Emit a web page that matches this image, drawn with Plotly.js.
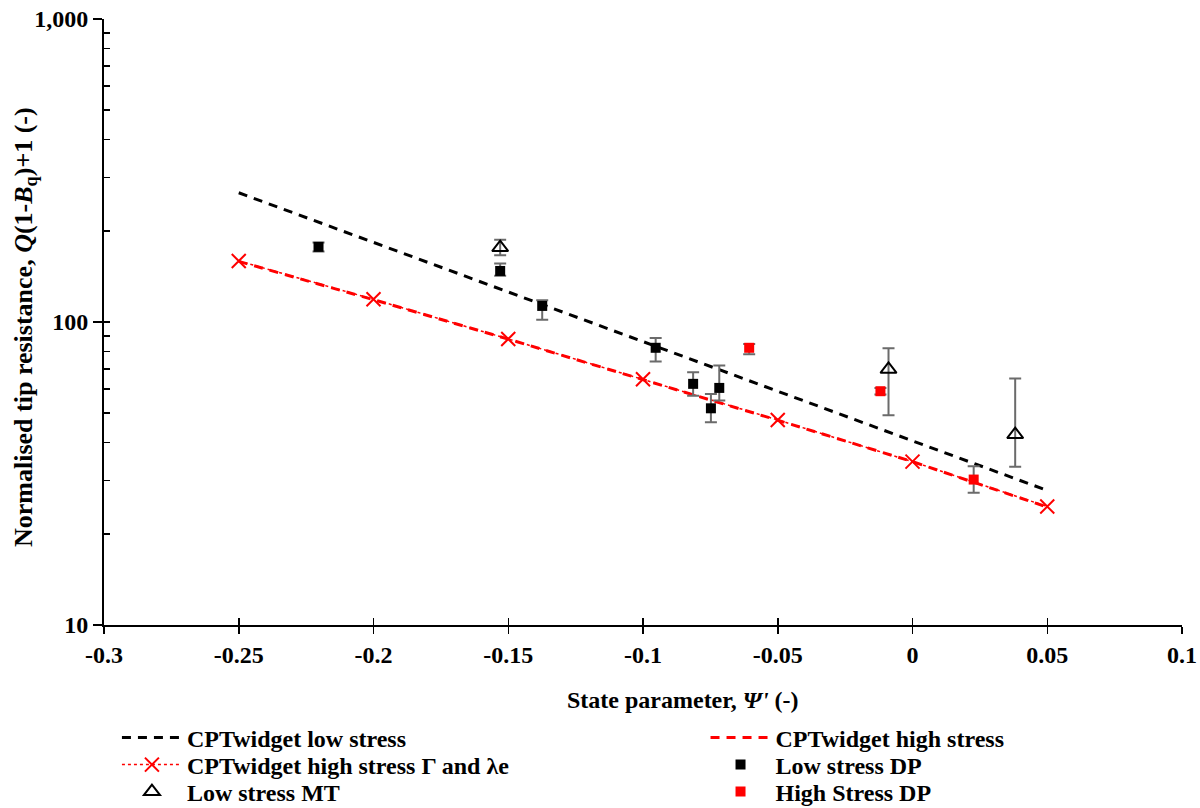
<!DOCTYPE html>
<html>
<head>
<meta charset="utf-8">
<script src="https://cdn.plot.ly/plotly-3.0.1.min.js"></script>
<style>html,body{margin:0;padding:0;background:#fff;}#chart{width:1200px;height:808px;}</style>
</head>
<body>
<div id="chart"></div>
<script>
// CPTwidget lines
const lowLineX = [-0.25, 0.05];
const lowLineY = [267, 27.8];
const highLineX = [-0.25, -0.2, -0.15, -0.1, -0.05, 0, 0.05];
const highLineY = [158.5, 118.5, 87.8, 64.5, 47.4, 34.6, 24.5];
const gammaX = [-0.25, -0.2, -0.15, -0.1, -0.05, 0, 0.05];
const gammaY = [159, 118.8, 87.9, 64.7, 47.5, 34.6, 24.6];

// Low stress DP
const lowDPX = [-0.2204, -0.153, -0.1374, -0.0953, -0.0814, -0.0748, -0.0717];
const lowDPY = [177, 147.4, 113, 82.2, 62.5, 51.9, 60.6];
const lowDPErrPlus = [6, 8.6, 5, 6.3, 5.7, 6.0, 11.3];
const lowDPErrMinus = [6, 5.4, 11.3, 8.2, 5.4, 5.2, 5.5];

// Low stress MT
const mtX = [-0.153, -0.0089, 0.0381];
const mtY = [176, 69.8, 42.5];
const mtErrPlus = [11, 12.1, 22.6];
const mtErrMinus = [10, 20.6, 9.2];

// High Stress DP
const highDPX = [-0.0606, -0.0119, 0.0227];
const highDPY = [82.2, 59.1, 30.2];
const highDPErrPlus = [2.4, 1.5, 3.2];
const highDPErrMinus = [4.0, 1.5, 2.9];

const seriesNames = ['CPTwidget low stress', 'CPTwidget high stress', 'CPTwidget high stress Γ and λe',
                     'Low stress DP', 'Low stress MT', 'High Stress DP'];

const yTickVals = [10, 100, 1000];
const yTickText = ['10', '100', '1,000'];
const yMinor = [20,30,40,50,60,70,80,90,200,300,400,500,600,700,800,900];
const xTickVals = [-0.3, -0.25, -0.2, -0.15, -0.1, -0.05, 0, 0.05, 0.1];
const xTickText = ['-0.3', '-0.25', '-0.2', '-0.15', '-0.1', '-0.05', '0', '0.05', '0.1'];

const FONT = 'Liberation Serif, Times New Roman, serif';
const errColor = '#6b6b6b';
const LEGFONT = {family: FONT, size: 24, color: '#000', weight: 'bold'};
const b = s => '<b>' + s + '</b>';

const traces = [
  {name: b(seriesNames[0]), x: lowLineX, y: lowLineY, mode: 'lines', legend: 'legend',
   line: {color: '#000', width: 3, dash: '9px,7px'}},
  {name: b(seriesNames[1]), x: highLineX, y: highLineY, mode: 'lines', legend: 'legend2',
   line: {color: '#ff0000', width: 3, dash: '9px,7px'}},
  {name: b(seriesNames[2]), x: gammaX, y: gammaY, mode: 'lines+markers', legend: 'legend3',
   line: {color: '#ff0000', width: 1.5, dash: 'dot'},
   marker: {symbol: 'x-thin-open', size: 14, color: '#ff0000', line: {color: '#ff0000', width: 2}}},
  {name: b(seriesNames[3]), x: lowDPX, y: lowDPY, mode: 'markers', legend: 'legend4',
   marker: {symbol: 'square', size: 10, color: '#000'},
   error_y: {type: 'data', symmetric: false, array: lowDPErrPlus, arrayminus: lowDPErrMinus,
             color: errColor, thickness: 2, width: 6}},
  {name: b(seriesNames[4]), x: mtX, y: mtY, mode: 'markers', legend: 'legend5',
   marker: {symbol: 'triangle-up-open', size: 14, color: '#000', line: {color: '#000', width: 2}},
   error_y: {type: 'data', symmetric: false, array: mtErrPlus, arrayminus: mtErrMinus,
             color: errColor, thickness: 2, width: 6}},
  {name: b(seriesNames[5]), x: highDPX, y: highDPY, mode: 'markers', legend: 'legend6',
   marker: {symbol: 'square', size: 10, color: '#ff0000'},
   error_y: {type: 'data', symmetric: false, array: highDPErrPlus, arrayminus: highDPErrMinus,
             color: errColor, thickness: 2, width: 6}}
];

// legend placement (paper coords relative to the plot area)
function leg(x, ypx) {
  return {orientation: 'v', xref: 'paper', yref: 'paper', x: x, xanchor: 'left',
          y: (625 - ypx) / 606, yanchor: 'middle', font: LEGFONT, itemwidth: 60,
          tracegroupgap: 0, bgcolor: 'rgba(0,0,0,0)', borderwidth: 0};
}
const colL = 0.012, colR = 0.558;
const rowY = [738, 765, 792];

const TICKFONT = {family: FONT, size: 24, color: '#000', weight: 'bold'};

const layout = {
  width: 1200, height: 808,
  margin: {l: 104, r: 18, t: 19, b: 183, autoexpand: false},
  paper_bgcolor: '#fff', plot_bgcolor: '#fff',
  font: {family: FONT, color: '#000', size: 24, weight: 'bold'},
  showlegend: true,
  legend: leg(colL, rowY[0]),
  legend2: leg(colR, rowY[0]),
  legend3: leg(colL, rowY[1]),
  legend4: leg(colR, rowY[1]),
  legend5: leg(colL, rowY[2]),
  legend6: leg(colR, rowY[2]),
  xaxis: {range: [-0.3, 0.1], tickvals: xTickVals, ticktext: xTickText.map(b),
          showgrid: false, zeroline: false, showline: true, linecolor: '#000', linewidth: 2,
          ticks: 'outside', ticklen: 7, tickwidth: 1.5, tickcolor: '#000', tickfont: TICKFONT},
  xaxis2: {range: [-0.3, 0.1], overlaying: 'x', anchor: 'y', side: 'bottom',
           tickvals: xTickVals, showticklabels: false, showgrid: false, zeroline: false,
           ticks: 'inside', ticklen: 7, tickwidth: 1.5, tickcolor: '#000', showline: false},
  yaxis: {type: 'log', range: [1, 3], tickvals: yTickVals, ticktext: yTickText.map(b),
          showgrid: false, zeroline: false, showline: true, linecolor: '#000', linewidth: 2,
          ticks: 'outside', ticklen: 9, tickwidth: 1.5, tickcolor: '#000', tickfont: TICKFONT},
  yaxis2: {type: 'log', range: [1, 3], overlaying: 'y', anchor: 'x', side: 'left',
           tickvals: yTickVals.concat(yMinor), showticklabels: false, showgrid: false, zeroline: false,
           ticks: 'inside', ticklen: 6, tickwidth: 1.5, tickcolor: '#000', showline: false},
  annotations: [
    {text: '<b>State parameter, <i>Ψ\'</i> (-)</b>', xref: 'paper', yref: 'paper',
     x: (565 - 104) / 1078, xanchor: 'left', y: (625 - 700) / 606, yanchor: 'middle',
     showarrow: false, font: {family: FONT, size: 24, color: '#000', weight: 'bold'}},
    {text: '<b>Normalised tip resistance, <i>Q</i>(1-<i>B</i><sub>q</sub>)+1 (-)</b>', xref: 'paper', yref: 'paper',
     x: (25 - 104) / 1078, xanchor: 'center', y: (625 - 327) / 606, yanchor: 'middle', textangle: -90,
     showarrow: false, font: {family: FONT, size: 26, color: '#000', weight: 'bold'}}
  ]
};

// Invisible helper trace so the overlay tick axes are drawn
traces.push({x: [-0.3], y: [10], xaxis: 'x2', yaxis: 'y2', mode: 'markers',
             marker: {opacity: 0}, showlegend: false, hoverinfo: 'skip'});

Plotly.newPlot('chart', traces, layout, {staticPlot: true});
</script>
</body>
</html>
